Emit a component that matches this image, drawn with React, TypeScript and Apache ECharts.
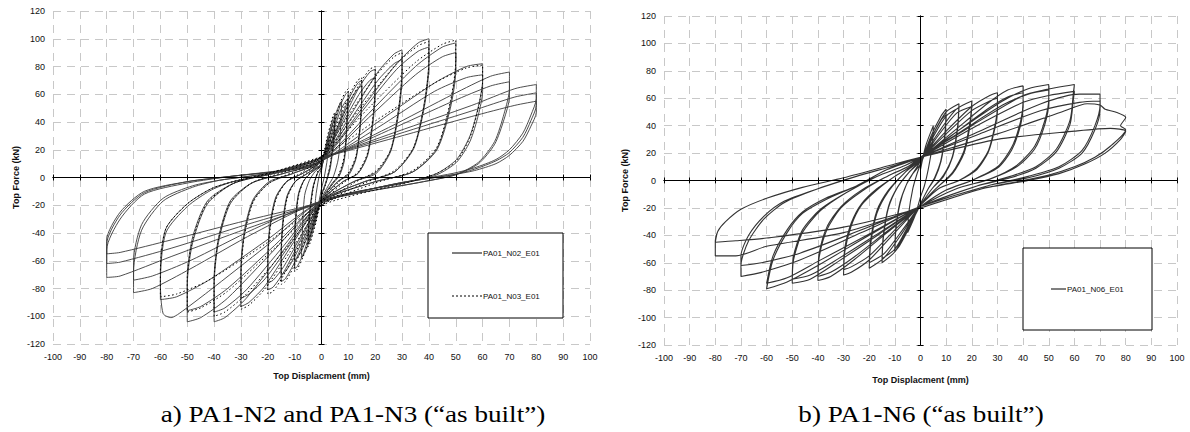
import React, { useEffect, useRef } from "react";
import * as echarts from "echarts";

// ---------- DATA ----------
const xName = "Top Displacment (mm)";
const yName = "Top Force (kN)";
const legendA = ["PA01_N02_E01", "PA01_N03_E01"];
const legendB = ["PA01_N06_E01"];
const captionA = "a) PA1-N2 and PA1-N3 (\u201cas built\u201d)";
const captionB = "b) PA1-N6 (\u201cas built\u201d)";

// PA01_N02_E01 : cycles [displacement mm, force kN]
const n02Loops: number[][][] = [
  [[0,5],[1,16],[2.5,28],[2.2,14],[1,0],[0,-8],[-1,-18],[-2.5,-30],[-2.2,-15],[-1,0]],
  [[0,7],[2,26],[4.2,42],[5,45],[4.7,30],[3.2,8],[1.5,-4],[0,-12],[-2,-30],[-4.2,-45],[-5,-48],[-4.7,-32],[-3.2,-8],[-1.5,3]],
  [[0,7],[2,24],[4.2,39],[5,42],[4.7,28],[3.2,6],[1.5,-5],[0,-13],[-2,-29],[-4.2,-42],[-5,-45],[-4.7,-30],[-3.2,-7],[-1.5,3]],
  [[0,8],[2.6,27],[5.3,46],[6.8,53],[7.5,55],[7.2,38],[6.3,14],[4.5,1],[2.5,-6],[0,-15],[-2.6,-31],[-5.3,-50],[-6.8,-56],[-7.5,-58],[-7.2,-42],[-6.3,-13],[-4.5,-2],[-2.5,4]],
  [[0,9],[3.5,30],[7,52],[9,60],[10,62],[9.6,44],[8.5,14],[6.6,2],[4,-4],[0,-16],[-3.5,-36],[-7,-56],[-9,-64],[-10,-66],[-10,-50],[-9.6,-30],[-8.5,-12],[-6.5,-2],[-3.5,4]],
  [[0,9],[3.5,28],[7,48],[9,55],[10,57],[9.6,40],[8.5,12],[6.6,1],[4,-5],[0,-16],[-3.5,-34],[-7,-51],[-9,-58],[-10,-60],[-10,-45],[-9.6,-27],[-8.5,-11],[-6.5,-2],[-3.5,4]],
  [[0,10],[5.2,33],[10.5,58],[13.5,68],[15,70],[15,60],[14.4,38],[12.9,15],[10.2,3],[6,-3],[0,-17],[-5.2,-40],[-10.5,-63],[-13.5,-73],[-15,-75],[-15,-56],[-14.4,-34],[-12.8,-14],[-9.8,-3],[-5.2,3]],
  [[0,10],[5.2,32],[10.5,55],[13.5,64],[15,66],[15,56],[14.4,36],[12.9,14],[10.2,2],[6,-3],[0,-17],[-5.2,-38],[-10.5,-59],[-13.5,-68],[-15,-70],[-15,-52],[-14.4,-31],[-12.8,-13],[-9.8,-3],[-5.2,3]],
  [[0,12],[7,38],[14,65],[18,76],[20,78],[20,66],[19.2,43],[17.2,17],[13.6,3],[8,-3],[0,-17],[-7,-42],[-14,-68],[-18,-79],[-20,-81],[-20,-61],[-19.2,-36],[-17,-15],[-13,-3],[-7,3]],
  [[0,12],[7,36],[14,60],[18,70],[20,72],[20,61],[19.2,40],[17.2,16],[13.6,3],[8,-3],[0,-17],[-7,-40],[-14,-64],[-18,-74],[-20,-76],[-20,-57],[-19.2,-34],[-17,-14],[-13,-3],[-7,3]],
  [[0,12],[10.5,44],[21,76],[27,89],[30,92],[30,78],[28.8,51],[25.8,20],[20.4,4],[12,-3],[0,-17],[-10.5,-47],[-21,-78],[-27,-90],[-30,-93],[-30,-70],[-28.8,-42],[-25.5,-17],[-19.5,-4],[-10.5,3]],
  [[0,12],[10.5,41],[21,70],[27,82],[30,85],[30,72],[28.8,47],[25.8,19],[20.4,3],[12,-3],[0,-17],[-10.5,-45],[-21,-73],[-27,-84],[-30,-87],[-30,-65],[-28.8,-39],[-25.5,-16],[-19.5,-3],[-10.5,3]],
  [[0,12],[14,47],[28,82],[36,97],[40,100],[40,85],[38.4,55],[34.4,22],[27.2,4],[16,-3],[0,-17],[-14,-52],[-28,-87],[-36,-101],[-40,-104],[-40,-78],[-38.4,-47],[-34,-19],[-26,-4],[-14,3]],
  [[0,12],[14,45],[28,78],[36,91],[40,94],[40,80],[38.4,52],[34.4,21],[27.2,4],[16,-3],[0,-17],[-14,-49],[-28,-81],[-36,-94],[-40,-97],[-40,-73],[-38.4,-44],[-34,-17],[-26,-4],[-14,3]],
  [[0,12],[17.5,46],[35,80],[45,94],[50,97],[50,82],[48,53],[43,21],[34,4],[20,-3],[0,-17],[-17.5,-52],[-35,-87],[-45,-101],[-50,-104],[-50,-78],[-48,-47],[-42.5,-19],[-32.5,-4],[-17.5,3]],
  [[0,12],[17.5,43],[35,74],[45,87],[50,90],[50,77],[48,50],[43,20],[34,4],[20,-3],[0,-17],[-17.5,-49],[-35,-80],[-45,-93],[-50,-96],[-50,-72],[-48,-43],[-42.5,-17],[-32.5,-4],[-17.5,3]],
  [[0,12],[21,40],[42,68],[54,80],[60,82],[60,70],[58.4,51],[55.3,30],[50.3,13],[43,3],[33,-3],[0,-17],[-21,-50],[-42,-82],[-53,-98],[-56,-101],[-59,-98],[-60,-76],[-58,-40],[-50,-21],[-41,-9],[-33,-3],[-18,3]],
  [[0,12],[21,36],[42,62],[54,72],[60,74],[60,62],[58.4,45],[55.3,26],[50.3,11],[43,2],[33,-3],[0,-17],[-21,-46],[-42,-74],[-54,-86],[-60,-88],[-60,-68],[-58,-37],[-50,-19],[-41,-8],[-33,-3],[-18,3]],
  [[0,13],[25,36],[49,60],[63,73],[70,76],[70,64],[68,46],[64.5,26],[58.5,11],[50,2],[38,-3],[0,-17],[-25,-40],[-49,-66],[-63,-80],[-70,-83],[-70,-68],[-67,-38],[-59,-17],[-48,-7],[-38,-2],[-20,3]],
  [[0,13],[25,34],[49,55],[63,66],[70,69],[70,58],[68,42],[64.5,24],[58.5,10],[50,2],[38,-3],[0,-17],[-25,-37],[-49,-60],[-63,-71],[-70,-74],[-70,-60],[-67,-34],[-59,-15],[-48,-6],[-38,-2],[-20,3]],
  [[0,14],[28,33],[56,52],[72,64],[80,67],[80,57],[78,45],[75,32],[70,20],[65,13],[57,7],[49,3],[29,-4],[8,-13],[0,-18],[-28,-37],[-56,-57],[-75,-71],[-80,-72],[-80,-52],[-75,-30],[-66,-12],[-50,-4],[-33,1],[-15,5]],
  [[0,14],[28,31],[56,48],[72,58],[80,61],[80,52],[78,41],[75,29],[70,18],[65,12],[57,6],[49,2],[29,-4],[8,-13],[0,-18],[-28,-34],[-56,-51],[-75,-61],[-80,-62],[-80,-48],[-75,-27],[-66,-11],[-50,-3],[-33,1],[-15,5]],
  [[0,14],[28,29],[56,44],[72,52],[80,55],[80,47],[78,37],[75,26],[70,16],[65,10],[57,5],[49,2],[29,-4],[8,-13],[0,-18],[-28,-31],[-56,-45],[-75,-54],[-80,-55],[-80,-45],[-75,-25],[-66,-10],[-50,-3],[-33,1],[-15,5],[0,8]],
];

// PA01_N03_E01 : cycles
const n03Loops: number[][][] = [
  [[0,9],[2,28],[4.2,44],[5,47],[4.7,32],[3.2,9],[1.5,-5],[0,-14],[-2,-32],[-4.2,-47],[-5,-50],[-4.7,-34],[-3.2,-9],[-1.5,4]],
  [[0,12],[3.5,32],[7,54],[9,62],[10,64],[9.6,46],[8.5,16],[6.6,3],[4,-5],[0,-18],[-3.5,-38],[-7,-58],[-9,-66],[-10,-68],[-10,-52],[-9.6,-31],[-8.5,-13],[-6.5,-2],[-3.5,5]],
  [[0,13],[5.2,36],[10.5,60],[13.5,70],[15,72],[15,61],[14.4,40],[12.9,16],[10.2,4],[6,-4],[0,-19],[-5.2,-42],[-10.5,-65],[-13.5,-75],[-15,-77],[-15,-58],[-14.4,-35],[-12.8,-15],[-9.8,-3],[-5.2,4]],
  [[0,14],[7,41],[14,67],[18,78],[20,80],[20,68],[19.2,45],[17.2,18],[13.6,4],[8,-4],[0,-19],[-7,-44],[-14,-70],[-18,-82],[-20,-84],[-20,-63],[-19.2,-38],[-17,-16],[-13,-3],[-7,4]],
  [[0,15],[10.5,46],[21,75],[27,87],[30,90],[30,77],[28.8,50],[25.8,20],[20.4,5],[12,-4],[0,-20],[-10.5,-50],[-21,-80],[-27,-92],[-30,-95],[-30,-72],[-28.8,-43],[-25.5,-18],[-19.5,-4],[-10.5,4]],
  [[0,15],[14,49],[28,82],[36,95],[40,98],[40,84],[38.4,54],[34.4,22],[27.2,5],[16,-4],[0,-20],[-14,-53],[-28,-84],[-36,-97],[-40,-100],[-40,-76],[-38.4,-45],[-34,-18],[-26,-4],[-14,4]],
  [[0,15],[17.5,50],[35,83],[45,96],[50,99],[50,84],[48,55],[43,22],[34,5],[20,-4],[0,-20],[-17.5,-51],[-35,-82],[-45,-94],[-50,-97],[-50,-74],[-48,-45],[-42.5,-18],[-32.5,-4],[-17.5,4]],
  [[0,15],[21,42],[42,68],[54,79],[60,81],[60,69],[58.4,50],[55.3,29],[50.3,12],[43,3],[33,-3],[0,-20],[-21,-48],[-42,-74],[-54,-84],[-60,-86],[-60,-68],[-58,-37],[-50,-19],[-41,-8],[-33,-3],[-18,4],[0,15]],
];

// PA01_N06_E01 : cycles
const n06Loops: number[][][] = [
  [[0,8],[2,25],[5,40],[4.6,26],[3,8],[1.5,-4],[0,-12],[-2,-25],[-5,-38],[-4.6,-24],[-3,-6],[-1.5,4]],
  [[0,12],[4,32],[8,47],[10,52],[9.6,36],[8,15],[5.5,2],[3,-6],[0,-17],[-4,-33],[-8,-47],[-10,-52],[-9.6,-36],[-8,-17],[-5.5,-3],[-3,5]],
  [[0,12],[4,30],[8,44],[10,48],[9.6,33],[8,14],[5.5,1],[3,-6],[0,-17],[-4,-32],[-8,-45],[-10,-50],[-9.6,-34],[-8,-16],[-5.5,-3],[-3,5]],
  [[0,14],[5,34],[10,50],[15,56],[14.5,40],[12.5,18],[9,4],[4.5,-6],[0,-18],[-5,-36],[-10,-52],[-15,-60],[-14.5,-42],[-12.5,-20],[-9,-5],[-4.5,6]],
  [[0,14],[5,32],[10,47],[15,53],[14.5,38],[12.5,17],[9,3],[4.5,-6],[0,-18],[-5,-34],[-10,-50],[-15,-57],[-14.5,-40],[-12.5,-19],[-9,-5],[-4.5,6]],
  [[0,15],[7,35],[14,52],[20,58],[19.4,44],[17,22],[12.5,6],[6,-6],[0,-18],[-7,-38],[-14,-56],[-20,-64],[-19.4,-46],[-17,-24],[-12.5,-8],[-6,6]],
  [[0,15],[7,33],[14,49],[20,54],[19.4,41],[17,20],[12.5,5],[6,-6],[0,-18],[-7,-36],[-14,-53],[-20,-60],[-19.4,-43],[-17,-22],[-12.5,-7],[-6,6]],
  [[0,16],[10,36],[20,54],[27,62],[30,64],[30,54],[29,40],[26.5,22],[22,9],[15,0],[7,-6],[0,-18],[-10,-38],[-20,-58],[-27,-67],[-30,-69],[-29.5,-52],[-27,-33],[-23,-18],[-17,-7],[-10,3],[-4,10]],
  [[0,16],[10,34],[20,51],[27,58],[30,60],[30,51],[29,38],[26.5,21],[22,8],[15,0],[7,-6],[0,-18],[-10,-36],[-20,-55],[-27,-63],[-30,-65],[-29.5,-49],[-27,-31],[-23,-17],[-17,-6],[-10,3],[-4,10]],
  [[0,16],[13,36],[26,56],[34,66],[40,69],[40,58],[39,43],[35.5,24],[30,10],[20,0],[10,-7],[0,-19],[-13,-38],[-26,-58],[-35,-70],[-40,-73],[-39.5,-56],[-36.5,-36],[-31,-20],[-23,-8],[-13,3],[-5,10]],
  [[0,16],[13,34],[26,52],[34,61],[40,64],[40,54],[39,40],[35.5,22],[30,9],[20,0],[10,-7],[0,-19],[-13,-37],[-26,-56],[-35,-67],[-40,-70],[-39.5,-53],[-36.5,-34],[-31,-19],[-23,-7],[-13,3],[-5,10]],
  [[0,17],[16,38],[32,58],[42,67],[50,70],[50,60],[48.5,44],[44.5,25],[37.5,11],[27,1],[14,-6],[0,-19],[-16,-39],[-32,-59],[-43,-72],[-50,-75],[-49.5,-58],[-46,-38],[-39,-22],[-29,-9],[-17,3],[-6,11]],
  [[0,17],[16,36],[32,55],[42,63],[50,66],[50,57],[48.5,41],[44.5,23],[37.5,10],[27,1],[14,-6],[0,-19],[-16,-38],[-32,-57],[-43,-69],[-50,-72],[-49.5,-55],[-46,-36],[-39,-21],[-29,-9],[-17,3],[-6,11]],
  [[0,17],[20,40],[40,62],[48,66],[60,70],[59.6,64],[58.3,44],[53,23],[45,10],[35,3],[22,-4],[0,-19],[-20,-40],[-40,-62],[-52,-74],[-60,-79],[-57.5,-58],[-52,-38],[-46,-24],[-37,-14],[-25,-4],[-13,8]],
  [[0,17],[20,38],[40,57],[50,62],[60,65],[59.6,59],[58.3,41],[53,21],[45,9],[35,2],[22,-4],[0,-19],[-20,-39],[-40,-59],[-52,-71],[-60,-75],[-57.5,-55],[-52,-36],[-46,-23],[-37,-13],[-25,-4],[-13,8]],
  [[0,17],[23,36],[47,56],[62,63],[70,63],[70,55],[68,40],[63,22],[54,10],[42,3],[26,-4],[0,-19],[-23,-38],[-47,-58],[-62,-67],[-70,-70],[-70,-62],[-67,-44],[-61,-28],[-53,-16],[-40,-6],[-25,3],[-10,11]],
  [[0,17],[23,34],[47,51],[62,57],[70,58],[70,51],[68,37],[63,20],[54,9],[42,2],[26,-4],[0,-19],[-23,-36],[-47,-53],[-62,-60],[-70,-62],[-70,-55],[-67,-40],[-61,-26],[-53,-15],[-40,-6],[-25,3],[-10,11]],
  [[0,17],[30,34],[55,50],[65,56],[70,55],[72,52],[76,50],[80,46],[78,40],[80,37],[74,25],[68,17],[60,10],[50,4],[40,0],[24,-6],[0,-20],[-30,-38],[-60,-48],[-72,-55],[-80,-55],[-80,-44],[-79,-37],[-76,-30],[-70,-21],[-60,-13],[-46,-5],[-30,2],[-10,12]],
  [[0,17],[30,30],[60,36],[74,38],[80,36],[78,30],[72,20],[64,12],[54,5],[42,0],[24,-6],[0,-20],[-30,-34],[-60,-42],[-72,-44],[-80,-45],[-79,-37],[-76,-30],[-70,-21],[-60,-13],[-46,-5],[-30,2],[-10,12],[0,17]],
];

// ---------- LAYOUT / STYLE ----------
const SANS = "'Liberation Sans', Arial, Helvetica, sans-serif";
const SERIF = "'Liberation Serif', 'Times New Roman', serif";
const gridBoxes = [
  { left: 53, top: 11, width: 537, height: 333, xGap: 27, yGap: 33 },
  { left: 664, top: 16, width: 513, height: 329, xGap: 30, yGap: 35 },
];
const splitStyle = { color: "#c8c8c8", width: 1, type: [8, 6] as number[] };

function buildXAxes(g: number) {
  const base = { type: "value", gridIndex: g, min: -100, max: 100, interval: 10, position: "bottom" };
  return [
    {
      ...base,
      axisLine: { show: false, onZero: false },
      axisTick: { show: false },
      axisLabel: { fontSize: 9, color: "#111", fontFamily: SANS, margin: 8 },
      splitLine: { show: true, lineStyle: splitStyle },
      name: xName,
      nameLocation: "middle",
      nameGap: gridBoxes[g].xGap,
      nameTextStyle: { fontSize: 9, fontWeight: "bold", fontFamily: SANS, color: "#111" },
    },
    {
      ...base,
      z: 6,
      axisLine: { show: true, onZero: true, lineStyle: { color: "#000", width: 1 } },
      axisTick: { show: true, inside: true, length: 3, lineStyle: { color: "#000" } },
      axisLabel: { show: false },
      splitLine: { show: false },
    },
    {
      ...base,
      z: 6,
      axisLine: { show: true, onZero: true, lineStyle: { color: "#000", width: 1 } },
      axisTick: { show: true, inside: false, length: 3, lineStyle: { color: "#000" } },
      axisLabel: { show: false },
      splitLine: { show: false },
    },
  ];
}

function buildYAxes(g: number) {
  const base = { type: "value", gridIndex: g, min: -120, max: 120, interval: 20, position: "left" };
  return [
    {
      ...base,
      axisLine: { show: false, onZero: false },
      axisTick: { show: false },
      axisLabel: { fontSize: 9, color: "#111", fontFamily: SANS, margin: 8 },
      splitLine: { show: true, lineStyle: splitStyle },
      name: yName,
      nameLocation: "middle",
      nameGap: gridBoxes[g].yGap,
      nameTextStyle: { fontSize: 9, fontWeight: "bold", fontFamily: SANS, color: "#111" },
    },
    {
      ...base,
      z: 6,
      axisLine: { show: true, onZero: true, lineStyle: { color: "#000", width: 1 } },
      axisTick: { show: true, inside: true, length: 3, lineStyle: { color: "#000" } },
      axisLabel: { show: false },
      splitLine: { show: false },
    },
    {
      ...base,
      z: 6,
      axisLine: { show: true, onZero: true, lineStyle: { color: "#000", width: 1 } },
      axisTick: { show: true, inside: false, length: 3, lineStyle: { color: "#000" } },
      axisLabel: { show: false },
      splitLine: { show: false },
    },
  ];
}

function legendBox(x: number, y: number, w: number, h: number, items: { label: string; y: number; x1: number; x2: number; dash?: number[] }[]) {
  const children: any[] = [
    { type: "rect", shape: { x, y, width: w, height: h }, style: { fill: "#fff", stroke: "#000", lineWidth: 1 }, z: 10 },
  ];
  items.forEach((it) => {
    children.push({
      type: "line",
      shape: { x1: it.x1, y1: it.y, x2: it.x2, y2: it.y },
      style: { stroke: "#000", lineWidth: 1, lineDash: it.dash || null },
      z: 11,
    });
    children.push({
      type: "text",
      x: it.x2 + 1,
      y: it.y,
      style: { text: it.label, fontSize: 8, fontFamily: SANS, fill: "#111", textVerticalAlign: "middle", textAlign: "left" },
      z: 11,
    });
  });
  return children;
}

export default function App() {
  const ref = useRef<HTMLDivElement>(null);
  useEffect(() => {
    if (!ref.current) return;
    const chart = echarts.init(ref.current, undefined, { renderer: "svg" });
    const option: any = {
      animation: false,
      backgroundColor: "#fff",
      grid: gridBoxes.map((b) => ({ left: b.left, top: b.top, width: b.width, height: b.height, containLabel: false })),
      xAxis: [...buildXAxes(0), ...buildXAxes(1)],
      yAxis: [...buildYAxes(0), ...buildYAxes(1)],
      series: [
        {
          name: legendA[0],
          type: "line",
          xAxisIndex: 0,
          yAxisIndex: 0,
          data: n02Loops.flat(),
          showSymbol: false,
          smooth: 0.25,
          lineStyle: { color: "#3a3a3a", width: 0.9 },
          z: 3,
        },
        {
          name: legendA[1],
          type: "line",
          xAxisIndex: 0,
          yAxisIndex: 0,
          data: n03Loops.flat(),
          showSymbol: false,
          smooth: 0.25,
          lineStyle: { color: "#000", width: 1, type: [1.5, 2.5] },
          z: 4,
        },
        {
          name: legendB[0],
          type: "line",
          xAxisIndex: 3,
          yAxisIndex: 3,
          data: n06Loops.flat(),
          showSymbol: false,
          smooth: 0.25,
          lineStyle: { color: "#333", width: 1.1 },
          z: 3,
        },
      ],
      graphic: [
        ...legendBox(428, 233, 135, 85, [
          { label: legendA[0], y: 253, x1: 452, x2: 482 },
          { label: legendA[1], y: 296, x1: 452, x2: 482, dash: [2, 2] },
        ]),
        ...legendBox(1023, 248, 129, 82, [{ label: legendB[0], y: 289, x1: 1051, x2: 1066 }]),
        {
          type: "text",
          x: 353,
          y: 414,
          scaleX: 1.18,
          style: { text: captionA, fontSize: 23, fontFamily: SERIF, fill: "#000", textAlign: "center", textVerticalAlign: "middle" },
        },
        {
          type: "text",
          x: 921,
          y: 414,
          scaleX: 1.18,
          style: { text: captionB, fontSize: 23, fontFamily: SERIF, fill: "#000", textAlign: "center", textVerticalAlign: "middle" },
        },
      ],
    };
    chart.setOption(option);
    return () => chart.dispose();
  }, []);
  return <div ref={ref} style={{ position: "fixed", left: 0, top: 0, width: 1190, height: 432, background: "#fff" }} />;
}
